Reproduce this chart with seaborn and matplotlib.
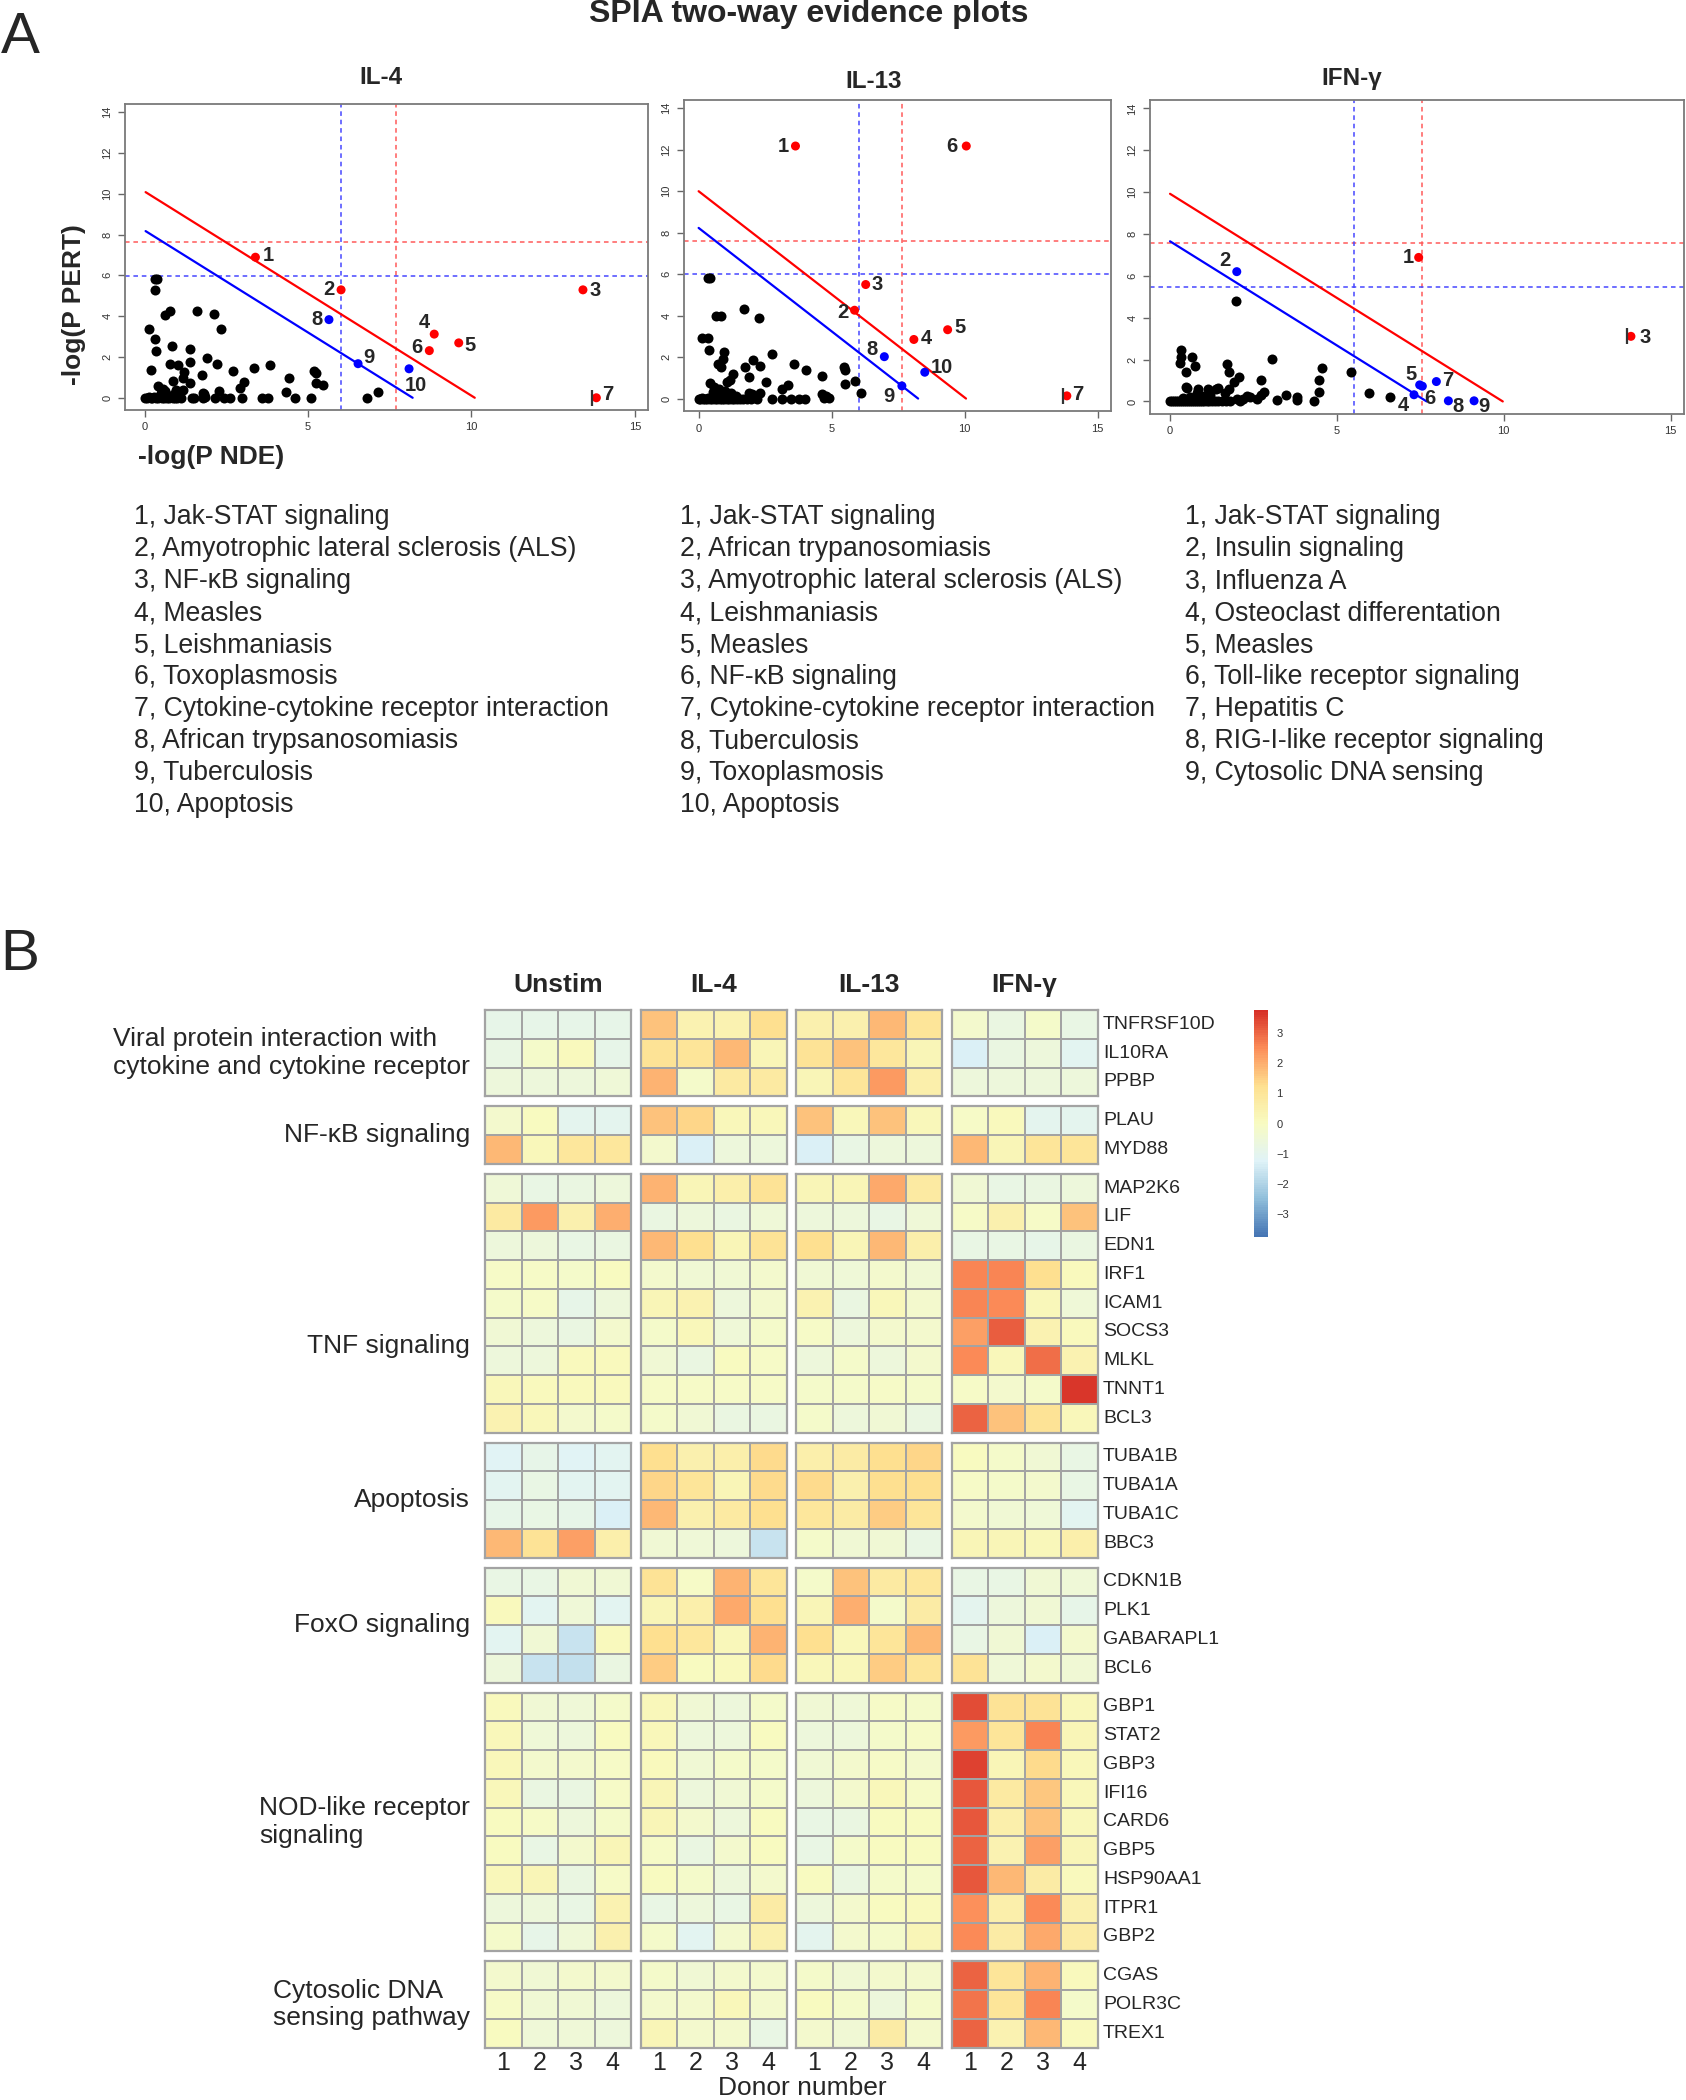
import numpy as np
import pandas as pd
import matplotlib
matplotlib.use("Agg")
import matplotlib.pyplot as plt
import seaborn as sns
from matplotlib.colors import LinearSegmentedColormap
from matplotlib import font_manager

# ----------------------------------------------------------------- DATA (panel A)
panel_titles = ["IL-4", "IL-13", "IFN-γ"]

il4_bg_x = [0.02, 0.08, 0.13, 0.19, 0.24, 0.30, 0.36, 0.41, 0.47, 0.52, 0.58, 0.63, 0.69, 0.75, 0.81, 0.88,
            0.94, 1.00, 1.06, 1.12, 1.46, 1.52, 1.80, 1.84, 2.15, 2.44, 2.61, 2.97, 3.60, 3.78, 4.59, 5.08, 6.80,
            0.32, 0.38, 0.33, 0.13, 0.32, 0.36, 0.21, 0.62, 0.79, 0.85, 0.77, 1.03, 0.87, 1.19, 1.16, 1.40, 1.39,
            1.40, 1.61, 2.11, 2.35, 1.90, 2.20, 1.76, 2.70, 3.03, 2.93, 2.28, 1.80, 3.36, 3.83, 4.41, 4.34, 5.17,
            5.23, 5.23, 5.46, 7.15, 0.40, 0.57, 0.95, 1.16, 0.50, 0.70, 0.90, 1.00, 0.62, 1.82]
il4_bg_y = [0.00, 0.00, 0.02, 0.00, 0.00, 0.03, 0.00, 0.00, 0.05, 0.00, 0.00, 0.02, 0.00, 0.00, 0.03, 0.00,
            0.00, 0.00, 0.02, 0.00, 0.00, 0.00, 0.00, 0.05, 0.00, 0.00, 0.00, 0.00, 0.00, 0.00, 0.00, 0.00, 0.00,
            5.83, 5.83, 5.29, 3.35, 2.86, 2.27, 1.36, 4.08, 4.26, 2.56, 1.67, 1.60, 0.83, 1.28, 0.95, 2.41, 1.76,
            0.74, 4.26, 4.09, 3.35, 1.97, 1.67, 1.10, 1.33, 0.78, 0.49, 0.32, 0.24, 1.46, 1.59, 0.99, 0.26, 1.29,
            1.21, 0.73, 0.61, 0.26, 0.57, 0.45, 0.40, 0.40, 0.25, 0.15, 0.20, 0.30, 0.35, 0.18]
il4_hl_x = [3.39, 6.01, 13.41, 8.86, 9.61, 8.71, 13.82, 5.64, 6.53, 8.09]
il4_hl_y = [6.89, 5.29, 5.29, 3.12, 2.69, 2.31, 0.00, 3.83, 1.67, 1.42]
il4_hl_col = ["red", "red", "red", "red", "red", "red", "red", "blue", "blue", "blue"]
il4_red_line = ([0.03, 10.10], [10.08, 0.0])
il4_blue_line = ([0.03, 8.20], [8.17, 0.0])
il4_thr = {"red_v": 7.69, "red_h": 7.65, "blue_v": 6.00, "blue_h": 5.95}
il4_bar = (13.69, 0.0)

il13_bg_x = [0.00, 0.06, 0.12, 0.18, 0.24, 0.30, 0.37, 0.43, 0.50, 0.56, 0.62, 0.68, 0.75, 0.81, 0.88, 0.94,
             1.00, 1.08, 1.15, 1.24, 1.33, 1.45, 1.55, 1.68, 1.80, 1.95, 2.21, 2.74, 3.13, 3.48, 3.78, 4.01, 4.72,
             4.90, 0.34, 0.43, 1.69, 2.28, 0.66, 0.85, 0.14, 0.36, 0.39, 0.96, 0.91, 2.74, 2.04, 0.74, 0.85, 1.73,
             2.30, 3.58, 4.03, 4.64, 5.45, 5.49, 1.30, 1.88, 2.53, 1.06, 1.18, 3.36, 3.15, 5.49, 5.86, 6.11, 4.64,
             4.78, 0.41, 0.59, 0.78, 1.90, 2.31, 1.00, 1.20, 0.55, 0.90, 1.40, 2.00]
il13_bg_y = [0.00, 0.00, 0.02, 0.00, 0.00, 0.00, 0.03, 0.00, 0.00, 0.02, 0.00, 0.00, 0.03, 0.00, 0.00, 0.00,
             0.02, 0.00, 0.00, 0.00, 0.00, 0.00, 0.00, 0.00, 0.00, 0.00, 0.00, 0.00, 0.00, 0.00, 0.00, 0.00, 0.05,
             0.05, 5.81, 5.81, 4.34, 3.90, 4.00, 4.00, 2.94, 2.94, 2.34, 2.23, 1.90, 2.15, 1.85, 1.65, 1.53, 1.50,
             1.58, 1.65, 1.37, 1.10, 1.53, 1.39, 1.19, 1.03, 0.79, 0.79, 0.90, 0.65, 0.45, 0.71, 0.84, 0.29, 0.21,
             0.13, 0.73, 0.58, 0.47, 0.29, 0.29, 0.35, 0.25, 0.30, 0.15, 0.12, 0.20]
il13_hl_x = [3.64, 5.86, 6.28, 8.09, 9.36, 10.06, 13.84, 6.98, 7.64, 8.50]
il13_hl_y = [12.18, 4.26, 5.50, 2.85, 3.32, 12.18, 0.13, 2.02, 0.61, 1.27]
il13_hl_col = ["red", "red", "red", "red", "red", "red", "red", "blue", "blue", "blue"]
il13_red_line = ([0.0, 10.05], [10.00, 0.0])
il13_blue_line = ([0.0, 8.25], [8.23, 0.0])
il13_thr = {"red_v": 7.65, "red_h": 7.60, "blue_v": 6.03, "blue_h": 6.00}
il13_bar = (13.71, 0.13)

ifn_bg_x = [0.00, 0.06, 0.12, 0.18, 0.24, 0.30, 0.36, 0.42, 0.48, 0.54, 0.60, 0.66, 0.72, 0.78, 0.84, 0.90,
            0.96, 1.02, 1.10, 1.18, 1.26, 1.34, 1.45, 1.55, 1.68, 1.80, 2.10, 2.18, 2.39, 2.60, 3.20, 3.47, 3.80,
            3.80, 4.32, 1.97, 0.34, 0.65, 0.32, 0.30, 0.74, 0.47, 0.49, 0.51, 0.83, 0.80, 1.14, 1.38, 1.43, 1.72,
            1.77, 2.06, 1.93, 1.77, 1.64, 3.05, 2.73, 2.81, 2.72, 4.55, 4.46, 4.46, 5.43, 5.96, 6.59, 0.40, 0.60,
            1.00, 1.20, 2.30, 2.00]
ifn_bg_y = [0.00, 0.00, 0.00, 0.02, 0.00, 0.00, 0.03, 0.00, 0.00, 0.02, 0.00, 0.00, 0.00, 0.03, 0.00, 0.00,
            0.00, 0.02, 0.00, 0.00, 0.00, 0.00, 0.00, 0.00, 0.02, 0.00, 0.00, 0.13, 0.20, 0.13, 0.08, 0.29, 0.20,
            0.08, 0.00, 4.80, 2.46, 2.11, 2.11, 1.85, 1.71, 1.39, 0.71, 0.62, 0.60, 0.41, 0.60, 0.60, 0.65, 1.81,
            1.41, 1.19, 0.92, 0.60, 0.38, 2.03, 1.03, 0.44, 0.32, 1.58, 1.03, 0.44, 1.43, 0.40, 0.19, 0.15, 0.20,
            0.25, 0.30, 0.25, 0.10]
ifn_hl_x = [7.45, 2.00, 13.81, 7.31, 7.48, 7.56, 7.98, 8.34, 9.11]
ifn_hl_y = [6.88, 6.20, 3.11, 0.32, 0.79, 0.73, 0.95, 0.03, 0.03]
ifn_hl_col = ["red", "blue", "red", "blue", "blue", "blue", "blue", "blue", "blue"]
ifn_red_line = ([0.0, 9.97], [9.92, 0.0])
ifn_blue_line = ([0.0, 7.69], [7.65, 0.0])
ifn_thr = {"red_v": 7.56, "red_h": 7.58, "blue_v": 5.51, "blue_h": 5.48}
ifn_bar = (13.68, 3.11)

list_il4 = ["1, Jak-STAT signaling", "2, Amyotrophic lateral sclerosis (ALS)", "3, NF-κB signaling",
            "4, Measles", "5, Leishmaniasis", "6, Toxoplasmosis", "7, Cytokine-cytokine receptor interaction",
            "8, African trypsanosomiasis", "9, Tuberculosis", "10, Apoptosis"]
list_il13 = ["1, Jak-STAT signaling", "2, African trypanosomiasis", "3, Amyotrophic lateral sclerosis (ALS)",
             "4, Leishmaniasis", "5, Measles", "6, NF-κB signaling", "7, Cytokine-cytokine receptor interaction",
             "8, Tuberculosis", "9, Toxoplasmosis", "10, Apoptosis"]
list_ifn = ["1, Jak-STAT signaling", "2, Insulin signaling", "3, Influenza A", "4, Osteoclast differentation",
            "5, Measles", "6, Toll-like receptor signaling", "7, Hepatitis C", "8, RIG-I-like receptor signaling",
            "9, Cytosolic DNA sensing"]

# ----------------------------------------------------------------- DATA (panel B)
conditions = ["Unstim", "IL-4", "IL-13", "IFN-γ"]
donors = ["1", "2", "3", "4"]
group_names = ["Viral protein interaction with\ncytokine and cytokine receptor", "NF-κB signaling",
               "TNF signaling", "Apoptosis", "FoxO signaling", "NOD-like receptor\nsignaling",
               "Cytosolic DNA\nsensing pathway"]
group_genes = [
    ["TNFRSF10D", "IL10RA", "PPBP"],
    ["PLAU", "MYD88"],
    ["MAP2K6", "LIF", "EDN1", "IRF1", "ICAM1", "SOCS3", "MLKL", "TNNT1", "BCL3"],
    ["TUBA1B", "TUBA1A", "TUBA1C", "BBC3"],
    ["CDKN1B", "PLK1", "GABARAPL1", "BCL6"],
    ["GBP1", "STAT2", "GBP3", "IFI16", "CARD6", "GBP5", "HSP90AA1", "ITPR1", "GBP2"],
    ["CGAS", "POLR3C", "TREX1"],
]
unstim_vals = [
    [-0.9, -0.9, -0.9, -0.9], [-0.8, -0.2, 0.1, -0.9], [-0.6, -0.6, -0.6, -0.5],
    [-0.3, 0.0, -1.0, -1.0], [1.8, 0.2, 0.9, 0.9],
    [-0.5, -0.8, -0.7, -0.6], [0.8, 2.3, 0.5, 2.0], [-0.6, -0.6, -0.8, -0.7], [-0.1, -0.1, -0.2, 0.0],
    [-0.2, -0.1, -0.9, -0.6], [-0.4, -0.6, -0.7, -0.3], [-0.6, -0.6, 0.1, 0.1], [0.2, 0.1, 0.1, 0.1],
    [0.4, 0.2, -0.3, -0.2],
    [-1.2, -0.9, -1.2, -1.1], [-1.1, -0.8, -1.1, -1.1], [-0.9, -0.8, -0.9, -1.3], [1.8, 1.1, 2.2, 0.6],
    [-0.8, -0.8, -0.4, -0.4], [0.1, -1.1, -0.5, -1.1], [-1.1, -0.4, -1.6, 0.1], [-0.6, -1.6, -1.7, -0.7],
    [0.1, -0.4, -0.5, -0.2], [0.2, -0.5, -0.6, 0.0], [0.2, -0.3, -0.3, -0.1], [0.2, -0.7, -0.7, -0.1],
    [0.0, -0.1, -0.6, -0.2], [0.0, -0.8, -0.3, 0.3], [0.2, 0.3, -0.7, -0.1], [-0.6, -0.6, -0.8, 0.4],
    [-0.2, -0.9, -0.5, 0.5],
    [-0.3, -0.4, -0.3, -0.3], [-0.1, -0.4, -0.4, -0.6], [0.0, -0.5, -0.5, -0.6],
]
il4_vals = [
    [1.7, 0.4, 0.4, 1.2], [1.1, 1.0, 1.8, 0.3], [1.9, -0.2, 0.8, 0.8],
    [1.7, 1.4, 0.2, 0.2], [-0.3, -1.3, -0.6, -0.6],
    [1.9, 0.3, 0.6, 1.1], [-0.7, -0.6, -0.7, -0.5], [1.8, 1.2, 0.3, 1.1], [-0.3, -0.4, -0.4, -0.3],
    [0.3, 0.4, -0.6, -0.3], [-0.2, 0.2, -0.5, -0.2], [-0.4, -0.7, 0.0, -0.1], [-0.1, -0.1, -0.1, -0.1],
    [-0.2, -0.4, -0.7, -0.7],
    [1.2, 0.5, 0.6, 1.3], [1.4, 1.0, 0.3, 1.3], [1.8, 0.5, 0.8, 1.2], [-0.4, -0.5, -0.6, -1.6],
    [1.1, -0.1, 1.9, 1.0], [0.3, 0.6, 2.1, 1.2], [1.2, 0.9, 0.2, 1.9], [1.5, 0.0, 0.1, 1.3],
    [0.2, -0.4, -0.6, -0.2], [0.2, -0.6, -0.6, 0.0], [0.1, -0.4, -0.2, -0.2], [0.3, -0.6, -0.4, -0.2],
    [0.3, -0.3, -0.6, 0.0], [-0.1, -0.7, -0.3, 0.0], [0.0, -0.2, -0.6, -0.3], [-0.8, -0.6, -0.8, 0.7],
    [-0.2, -1.1, -0.3, 0.5],
    [-0.2, -0.4, -0.3, -0.3], [-0.3, -0.3, 0.2, -0.3], [0.3, -0.3, -0.3, -0.8],
]
il13_vals = [
    [0.5, 0.5, 1.8, 1.0], [1.1, 1.7, 0.9, 0.3], [0.3, 1.0, 2.3, 0.6],
    [1.7, 0.2, 1.7, 0.2], [-1.3, -0.8, -0.6, -0.6],
    [0.3, 0.3, 2.1, 0.8], [-0.6, -0.6, -0.8, -0.5], [1.2, 0.3, 1.8, 0.6], [-0.4, -0.5, -0.3, -0.4],
    [0.4, -0.7, 0.2, -0.3], [-0.1, -0.6, -0.3, -0.3], [-0.6, -0.2, -0.6, -0.3], [-0.2, -0.2, -0.1, -0.2],
    [-0.2, -0.6, -0.4, -0.7],
    [0.6, 0.7, 1.2, 1.4], [1.3, 0.5, 1.2, 1.2], [0.9, 0.7, 1.5, 1.0], [-0.2, -0.4, -0.4, -0.8],
    [-0.2, 1.7, 0.8, 0.9], [0.3, 2.0, -0.2, 0.7], [1.2, 0.2, 1.0, 1.8], [0.2, 0.2, 1.5, 1.0],
    [-0.4, -0.5, -0.1, -0.2], [-0.6, -0.6, -0.2, -0.1], [-0.4, -0.3, -0.1, -0.3], [-0.6, -0.3, 0.2, -0.1],
    [-0.8, -0.7, 0.0, 0.0], [-0.8, -0.2, 0.0, 0.0], [0.0, -0.7, -0.2, -0.2], [-0.6, -0.3, 0.0, 0.1],
    [-1.0, -0.3, -0.2, 0.3],
    [-0.2, -0.4, -0.3, -0.3], [0.0, -0.2, -0.6, -0.2], [-0.3, -0.4, 0.7, -0.3],
]
ifng_vals = [
    [-0.3, -0.7, -0.2, -0.8], [-1.3, -0.7, -0.6, -1.1], [-0.6, -0.6, -0.6, -0.6],
    [-0.1, 0.1, -1.0, -1.0], [1.8, 0.3, 1.0, 1.0],
    [-0.4, -0.8, -0.7, -0.6], [-0.1, 0.5, -0.1, 1.7], [-0.8, -0.8, -0.9, -0.7], [2.6, 2.6, 1.2, 0.1],
    [2.6, 2.5, 0.2, -0.5], [2.2, 3.1, 0.4, 0.1], [2.5, 0.2, 2.9, 0.4], [-0.1, -0.3, -0.2, 3.6],
    [3.0, 1.7, 1.1, 0.2],
    [0.0, -0.2, -0.4, -0.8], [-0.1, -0.2, -0.3, -0.8], [-0.3, -0.4, -0.5, -1.1], [0.3, 0.3, 0.2, 0.6],
    [-0.8, -0.8, -0.4, -0.5], [-1.0, -0.6, -0.4, -0.9], [-0.8, -0.4, -1.3, -0.3], [1.1, -0.5, -0.3, -0.4],
    [3.3, 1.1, 1.1, 0.2], [2.3, 1.0, 2.6, 0.3], [3.5, 0.3, 1.3, 0.2], [3.2, 0.8, 1.6, 0.2],
    [3.2, 0.6, 1.7, 0.2], [3.0, 0.4, 2.2, 0.3], [3.2, 1.8, 0.7, 0.1], [2.4, 0.6, 2.5, 0.5],
    [2.5, 0.7, 2.1, 0.7],
    [3.0, 1.0, 1.9, 0.1], [2.8, 1.0, 2.6, -0.2], [3.0, 0.4, 1.8, 0.1],
]
cbar_ticks = [-3, -2, -1, 0, 1, 2, 3]
heat_colors = ["#4575B4", "#91BFDB", "#E0F3F8", "#F8FBC2", "#FEE090", "#FC8D59", "#D73027"]

# ----------------------------------------------------------------- STYLE / LAYOUT
sns.set_theme(style="white")
plt.rcParams['font.family'] = ['Liberation Sans', 'DejaVu Sans']
plt.rcParams['axes.unicode_minus'] = True

list_family, list_size = ["Liberation Sans", "DejaVu Sans"], 19.2

W, H = 1686, 2100
fig = plt.figure(figsize=(W / 100, H / 100), dpi=100)


def px_axes(l, t, r, b):
    return fig.add_axes([l / W, 1 - b / H, (r - l) / W, (b - t) / H])


def ftext(x, y, s, **kw):
    return fig.text(x / W, 1 - y / H, s, **kw)


ftext(809, 14, "SPIA two-way evidence plots", ha="center", va="center", fontsize=23, fontweight="bold")
ftext(20, 38, "A", ha="center", va="center", fontsize=42)
ftext(20, 955, "B", ha="center", va="center", fontsize=42)

panels = [
    dict(box=(125, 104, 648, 410), xlim=(-0.6, 15.4), title_xy=(381, 78),
         bg=(il4_bg_x, il4_bg_y), hl=(il4_hl_x, il4_hl_y, il4_hl_col), red=il4_red_line, blue=il4_blue_line,
         thr=il4_thr, bar=il4_bar,
         off=[(13, 2), (-12, 0), (12, -1), (-10, 12), (11, -3), (-12, 3), (11, 3), (-12, 0), (11, 6), (7, -17)]),
    dict(box=(684, 100, 1111, 411), xlim=(-0.55, 15.5), title_xy=(874, 81),
         bg=(il13_bg_x, il13_bg_y), hl=(il13_hl_x, il13_hl_y, il13_hl_col), red=il13_red_line,
         blue=il13_blue_line, thr=il13_thr, bar=il13_bar,
         off=[(-12, 0), (-12, -2), (11, 0), (12, 1), (12, 2), (-14, 0), (11, 1), (-12, 7), (-13, -11), (17, 5)]),
    dict(box=(1150, 100, 1684, 414), xlim=(-0.6, 15.4), title_xy=(1352, 78),
         bg=(ifn_bg_x, ifn_bg_y), hl=(ifn_hl_x, ifn_hl_y, ifn_hl_col), red=ifn_red_line, blue=ifn_blue_line,
         thr=ifn_thr, bar=ifn_bar,
         off=[(-10, 0), (-12, 11), (14, -1), (-11, -11), (-9, 10), (8, -12), (11, 1), (10, -6), (10, -6)]),
]

for p, title in zip(panels, panel_titles):
    ax = px_axes(*p["box"])
    ax.set_xlim(*p["xlim"])
    ax.set_ylim(-0.6, 14.4)
    ax.axvline(p["thr"]["red_v"], color="#ff5a5a", lw=1.1, ls=(0, (3, 2.5)), zorder=1)
    ax.axhline(p["thr"]["red_h"], color="#ff5a5a", lw=1.1, ls=(0, (3, 2.5)), zorder=1)
    ax.axvline(p["thr"]["blue_v"], color="#4646ff", lw=1.1, ls=(0, (3, 2.5)), zorder=1)
    ax.axhline(p["thr"]["blue_h"], color="#4646ff", lw=1.1, ls=(0, (3, 2.5)), zorder=1)
    sns.lineplot(x=p["red"][0], y=p["red"][1], ax=ax, color="#ff0000", lw=1.6, zorder=2)
    sns.lineplot(x=p["blue"][0], y=p["blue"][1], ax=ax, color="#0000ff", lw=1.6, zorder=2)
    sns.scatterplot(x=p["bg"][0], y=p["bg"][1], ax=ax, color="black", s=52, linewidth=0, zorder=3)
    hdf = pd.DataFrame({"x": p["hl"][0], "y": p["hl"][1], "c": p["hl"][2]})
    sns.scatterplot(data=hdf, x="x", y="y", hue="c", palette={"red": "#ff0000", "blue": "#0000ff"},
                    ax=ax, s=42, linewidth=0, zorder=4, legend=False)
    ax.plot([p["bar"][0]], [p["bar"][1]], marker="|", color="#333333", markersize=12, mew=1.6, zorder=4)
    for i, (x, y) in enumerate(zip(p["hl"][0], p["hl"][1])):
        ax.annotate(str(i + 1), (x, y), xytext=p["off"][i], textcoords="offset pixels",
                    ha="center", va="center", fontsize=14.5, fontweight="bold", zorder=5)
    ax.set_xticks([0, 5, 10, 15])
    ax.set_yticks([0, 2, 4, 6, 8, 10, 12, 14])
    ax.set_xlabel("")
    ax.set_ylabel("")
    ax.tick_params(direction="out", length=5, width=1, color="#666666", labelsize=8, pad=4,
                   labelcolor="#333333", bottom=True, left=True)
    plt.setp(ax.get_yticklabels(), rotation=90, va="center")
    for s in ax.spines.values():
        s.set_color("#7a7a7a")
        s.set_linewidth(1.3)
    ftext(p["title_xy"][0], p["title_xy"][1], title, ha="center", va="center", fontsize=17.5, fontweight="bold")

ftext(74, 305, "-log(P PERT)", ha="center", va="center", rotation=90, fontsize=19, fontweight="bold")
ftext(138, 457, "-log(P NDE)", ha="left", va="center", fontsize=19, fontweight="bold")

for lst, x0 in [(list_il4, 134), (list_il13, 680), (list_ifn, 1185)]:
    for i, s in enumerate(lst):
        ftext(x0, 517 + 32 * i, s, ha="left", va="center", fontsize=list_size, family=list_family)

# ----------------------------------------------------------------- PANEL B heatmap
cmap = LinearSegmentedColormap.from_list("rdylbu7", heat_colors, N=100)
vmin, vmax = -3.75, 3.75
all_vals = [unstim_vals, il4_vals, il13_vals, ifng_vals]

hm_left, cell_w, col_gap = 485, 36.5, 9.5
hm_top, cell_h, row_gap = 1010, 28.75, 10
block_lefts = [hm_left + k * (4 * cell_w + col_gap) for k in range(4)]

cax = px_axes(1254, 1010, 1268, 1237)
first = True
row0 = 0
ycur = hm_top
for gi, genes in enumerate(group_genes):
    n = len(genes)
    for ci, cond in enumerate(conditions):
        df = pd.DataFrame(all_vals[ci][row0:row0 + n], index=genes, columns=donors)
        ax = px_axes(block_lefts[ci], ycur, block_lefts[ci] + 4 * cell_w, ycur + n * cell_h)
        sns.heatmap(df, ax=ax, cmap=cmap, vmin=vmin, vmax=vmax, linewidths=1.4, linecolor="#a3a3a3",
                    xticklabels=False, yticklabels=False, cbar=first, cbar_ax=cax if first else None)
        first = False
        for s in ax.spines.values():
            s.set_visible(True)
            s.set_color("#a3a3a3")
            s.set_linewidth(1.6)
    for k, g in enumerate(genes):
        ftext(1103, ycur + (k + 0.5) * cell_h, g, ha="left", va="center", fontsize=14)
    if gi == 2:
        yc = ycur + 6 * cell_h
    else:
        yc = ycur + n * cell_h / 2
    ftext(470, yc, group_names[gi], ha="right", va="center", multialignment="left", fontsize=19,
          linespacing=1.18)
    row0 += n
    ycur += n * cell_h + row_gap

cax.set_yticks(cbar_ticks)
cax.tick_params(length=0, labelsize=8, pad=6, labelcolor="#333333")
for s in cax.spines.values():
    s.set_visible(False)

for ci, cond in enumerate(conditions):
    ftext(block_lefts[ci] + 2 * cell_w, 985, cond, ha="center", va="center", fontsize=19, fontweight="bold")
    for di, d in enumerate(donors):
        ftext(block_lefts[ci] + (di + 0.5) * cell_w, 2063, d, ha="center", va="center", fontsize=18)
ftext(802, 2088, "Donor number", ha="center", va="center", fontsize=19)

fig.savefig("out.png", dpi=100, facecolor="white")
